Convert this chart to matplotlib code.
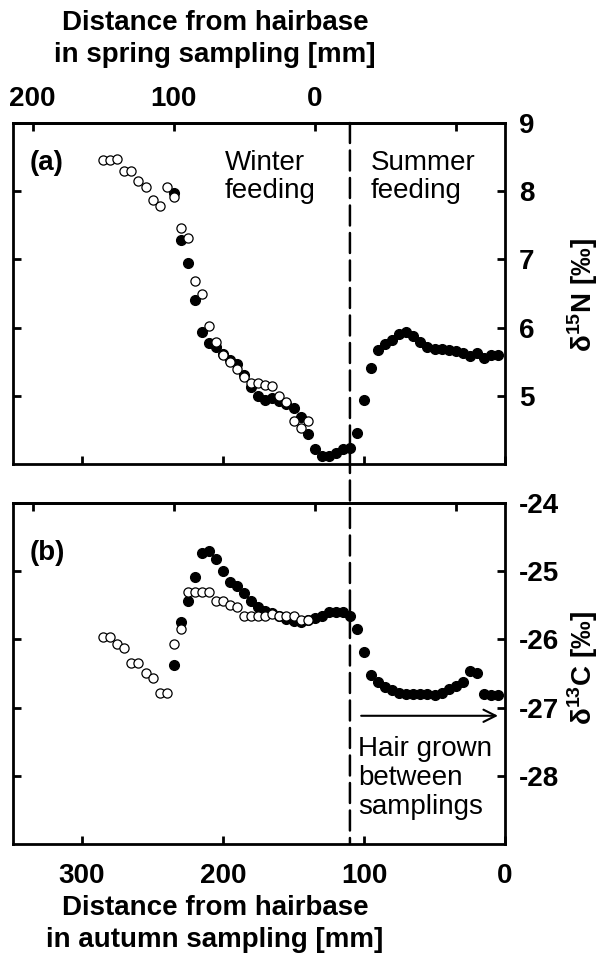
"""Hair isotope profiles: autumn vs spring sampling, delta15N and delta13C."""
import matplotlib
matplotlib.use("Agg")
import matplotlib.pyplot as plt
from matplotlib.patches import ConnectionPatch

plt.rcParams["font.family"] = ["Liberation Sans", "DejaVu Sans"]
plt.rcParams["mathtext.fontset"] = "custom"
plt.rcParams["mathtext.rm"] = "Liberation Sans"
plt.rcParams["mathtext.bf"] = "Liberation Sans:bold"
plt.rcParams["axes.unicode_minus"] = False

# autumn distance = spring distance + SHIFT (hair grown between samplings)
SHIFT = 135
SWITCH = 110  # winter -> summer feeding boundary, autumn scale [mm]

# autumn sampling (filled), distance from hairbase in autumn sampling [mm]
autumn_x = [235, 230, 225, 220, 215, 210, 205, 200, 195, 190, 185, 180,
            175, 170, 165, 160, 155, 150, 145, 140, 135, 130, 125, 120,
            115, 110, 105, 100, 95, 90, 85, 80, 75, 70, 65, 60,
            55, 50, 45, 40, 35, 30, 25, 20, 15, 10, 5]
autumn_d15n = [7.97, 7.28, 6.94, 6.41, 5.93, 5.78, 5.71, 5.62, 5.52, 5.46, 5.30, 5.13,
               4.99, 4.94, 4.97, 4.93, 4.88, 4.82, 4.69, 4.44, 4.22, 4.12, 4.12, 4.16,
               4.22, 4.24, 4.46, 4.94, 5.41, 5.67, 5.76, 5.82, 5.90, 5.93, 5.87, 5.79,
               5.72, 5.68, 5.68, 5.67, 5.65, 5.63, 5.58, 5.63, 5.56, 5.60, 5.60]
autumn_d13c = [-26.37, -25.75, -25.44, -25.09, -24.73, -24.71, -24.82, -24.99, -25.16, -25.21, -25.32, -25.44,
               -25.53, -25.58, -25.62, -25.66, -25.70, -25.73, -25.74, -25.72, -25.69, -25.65, -25.60, -25.60,
               -25.60, -25.65, -25.85, -26.19, -26.52, -26.62, -26.70, -26.74, -26.78, -26.80, -26.80, -26.80,
               -26.80, -26.82, -26.78, -26.72, -26.68, -26.62, -26.47, -26.49, -26.80, -26.82, -26.82]

# spring sampling (open), distance from hairbase in spring sampling [mm]
spring_x = [150, 145, 140, 135, 130, 125, 120, 115, 110, 105, 100, 95, 90, 85, 80,
            75, 70, 65, 60, 55, 50, 45, 40, 35, 30, 25, 20, 15, 10, 5]
spring_d15n = [8.46, 8.46, 8.47, 8.29, 8.29, 8.15, 8.06, 7.87, 7.78, 8.06, 7.91, 7.46, 7.31, 6.68, 6.49,
               6.03, 5.79, 5.60, 5.49, 5.40, 5.28, 5.19, 5.19, 5.16, 5.15, 4.99, 4.91, 4.63, 4.53, 4.63]
spring_d13c = [-25.97, -25.97, -26.07, -26.12, -26.34, -26.34, -26.49, -26.56, -26.78, -26.78, -26.07, -25.85, -25.31, -25.31, -25.31,
               -25.31, -25.43, -25.43, -25.50, -25.53, -25.65, -25.65, -25.65, -25.65, -25.63, -25.65, -25.65, -25.66, -25.72, -25.72]

autumn_ticks = [300, 200, 100, 0]
spring_ticks = [200, 100, 0, -100]
spring_ticklabels = ["200", "100", "0", ""]

FS = 20
LW = 2.0


def style_axes(ax, yticks, xlabels):
    ax.set_xlim(349, 0)
    ax.set_xticks(autumn_ticks)
    ax.set_yticks(yticks)
    for s in ax.spines.values():
        s.set_linewidth(LW)
    ax.tick_params(direction="in", length=6, width=LW, top=False, bottom=True,
                   left=True, right=True, labelleft=False, labelright=True,
                   labelbottom=xlabels, labelsize=FS, pad=10)
    for lab in ax.get_xticklabels() + ax.get_yticklabels():
        lab.set_fontweight("bold")
    sec = ax.secondary_xaxis("top", functions=(lambda a: a - SHIFT, lambda s: s + SHIFT))
    sec.set_xticks(spring_ticks)
    sec.set_xticklabels(spring_ticklabels if not xlabels else [""] * 4,
                        fontsize=FS, fontweight="bold")
    sec.tick_params(direction="in", length=6, width=LW, pad=8)
    sec.spines["top"].set_linewidth(LW)
    return sec


fig = plt.figure(figsize=(6.04, 9.65), dpi=100)
ax1 = fig.add_axes([13 / 604, 1 - 464 / 965, 492 / 604, 341 / 965])
ax2 = fig.add_axes([13 / 604, 1 - 844 / 965, 492 / 604, 341 / 965])

ms = 7
spring_on_autumn = [s + SHIFT for s in spring_x]

# (a) delta15N
ax1.plot(autumn_x, autumn_d15n, "o", color="black", ms=ms, zorder=3)
ax1.plot(spring_on_autumn, spring_d15n, "o", mfc="white", mec="black", mew=0.9, ms=ms - 0.4, zorder=4)
ax1.set_ylim(4, 9)
style_axes(ax1, [5, 6, 7, 8, 9], xlabels=False)
ax1.text(337, 8.41, "(a)", fontsize=FS, fontweight="bold", va="center", ha="left")
ax1.text(199, 8.21, "Winter\nfeeding", fontsize=FS, va="center", ha="left", linespacing=1.1)
ax1.text(95.5, 8.21, "Summer\nfeeding", fontsize=FS, va="center", ha="left", linespacing=1.1)

# (b) delta13C
ax2.plot(autumn_x, autumn_d13c, "o", color="black", ms=ms, zorder=3)
ax2.plot(spring_on_autumn, spring_d13c, "o", mfc="white", mec="black", mew=0.9, ms=ms - 0.4, zorder=4)
ax2.set_ylim(-29, -24)
style_axes(ax2, [-28, -27, -26, -25, -24], xlabels=True)
ax2.xaxis.set_tick_params(pad=14)
ax2.text(337, -24.74, "(b)", fontsize=FS, fontweight="bold", va="center", ha="left")
ax2.annotate("", xy=(3, -27.12), xytext=(104, -27.12),
             arrowprops=dict(arrowstyle="->", lw=1.5, color="black", mutation_scale=22))
ax2.text(104, -28.03, "Hair grown\nbetween\nsamplings", fontsize=FS, va="center",
         ha="left", linespacing=1.15)

# boundary between feeding seasons, spanning both panels
con = ConnectionPatch(xyA=(SWITCH, 9), coordsA=ax1.transData,
                      xyB=(SWITCH, -29), coordsB=ax2.transData,
                      linestyle=(0, (8, 3)), lw=1.8, color="black", zorder=5)
fig.add_artist(con)

# axis titles
fig.text(583 / 604, 1 - 295 / 965, "δ$^{\\mathbf{15}}$N [‰]", fontsize=FS, fontweight="bold",
         rotation=90, ha="center", va="center")
fig.text(583 / 604, 1 - 668 / 965, "δ$^{\\mathbf{13}}$C [‰]", fontsize=FS, fontweight="bold",
         rotation=90, ha="center", va="center")
fig.text(215 / 604, 1 - 39 / 965, "Distance from hairbase\nin spring sampling [mm]",
         fontsize=FS, fontweight="bold", ha="center", va="center", linespacing=1.3)
fig.text(215 / 604, 1 - 924 / 965, "Distance from hairbase\nin autumn sampling [mm]",
         fontsize=FS, fontweight="bold", ha="center", va="center", linespacing=1.3)

fig.savefig("out.png", dpi=100)
